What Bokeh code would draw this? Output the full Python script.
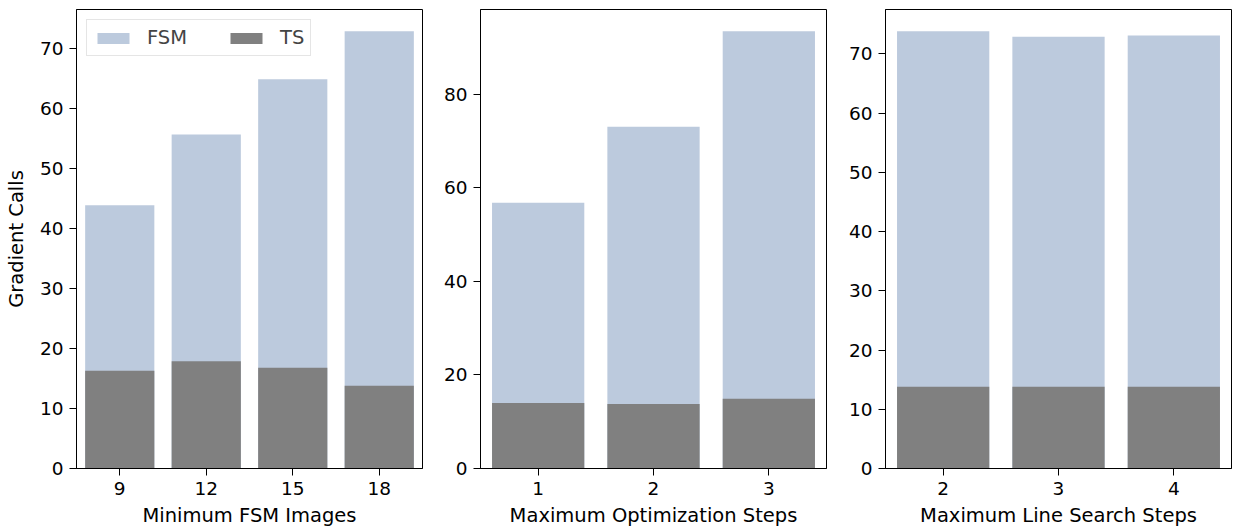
from bokeh.plotting import figure
from bokeh.layouts import row
from bokeh.models import Range1d, FixedTicker, Legend, LegendItem
from bokeh.embed import file_html
from bokeh.resources import INLINE

# ---- data ----
fsm_images = ["9", "12", "15", "18"]
fsm_images_fsm = [43.9, 55.7, 64.9, 72.9]
fsm_images_ts = [16.3, 17.9, 16.8, 13.8]

opt_steps = ["1", "2", "3"]
opt_steps_fsm = [56.8, 73.0, 93.4]
opt_steps_ts = [14.0, 13.8, 14.9]

ls_steps = ["2", "3", "4"]
ls_steps_fsm = [73.8, 72.9, 73.1]
ls_steps_ts = [13.8, 13.8, 13.8]

FSM_COLOR = "#bccadd"
TS_COLOR = "#808080"
FONT = "DejaVu Sans"
TICK_FS = "18.5px"
LABEL_FS = "19.5px"


def make_panel(cats, fsm, ts, xlabel, yticks, ylabel=None, min_left=53, min_right=5):
    ymax = max(fsm) * 1.05
    p = figure(x_range=cats, y_range=Range1d(0, ymax),
               frame_width=346, frame_height=459,
               output_backend="svg", toolbar_location=None,
               min_border_left=min_left, min_border_right=min_right,
               min_border_top=9, min_border_bottom=0)
    r1 = p.vbar(x=cats, top=fsm, width=0.8, fill_color=FSM_COLOR, line_color=None)
    r2 = p.vbar(x=cats, top=ts, width=0.8, fill_color=TS_COLOR, line_color=None)
    p.xgrid.visible = False
    p.ygrid.visible = False
    p.outline_line_color = "black"
    p.outline_line_alpha = 1
    p.outline_line_width = 1
    p.yaxis.ticker = FixedTicker(ticks=yticks)
    for ax in (p.xaxis[0], p.yaxis[0]):
        ax.axis_line_color = "black"
        ax.major_tick_line_color = "black"
        ax.major_tick_out = 7
        ax.major_tick_in = 0
        ax.minor_tick_line_color = None
        ax.major_label_text_font = FONT
        ax.major_label_text_font_size = TICK_FS
        ax.major_label_text_color = "black"
        ax.axis_label_text_font = FONT
        ax.axis_label_text_font_size = LABEL_FS
        ax.axis_label_text_font_style = "normal"
        ax.axis_label_text_color = "black"
        ax.major_label_standoff = 6
    p.xaxis.axis_label = xlabel
    p.xaxis.axis_label_standoff = 6
    p.xaxis.major_label_standoff = 6
    if ylabel:
        p.yaxis.axis_label = ylabel
        p.yaxis.axis_label_standoff = 9
    return p, r1, r2


p1, a1, b1 = make_panel(fsm_images, fsm_images_fsm, fsm_images_ts, "Minimum FSM Images",
                        [0, 10, 20, 30, 40, 50, 60, 70], ylabel="Gradient Calls", min_left=76)
p2, _, _ = make_panel(opt_steps, opt_steps_fsm, opt_steps_ts, "Maximum Optimization Steps",
                      [0, 20, 40, 60, 80], min_left=53)
p3, _, _ = make_panel(ls_steps, ls_steps_fsm, ls_steps_ts, "Maximum Line Search Steps",
                      [0, 10, 20, 30, 40, 50, 60, 70], min_left=54, min_right=2)

legend = Legend(items=[LegendItem(label="FSM", renderers=[a1]),
                       LegendItem(label="TS", renderers=[b1])],
                orientation="horizontal", location="top_left")
legend.label_text_font = FONT
legend.label_text_font_size = LABEL_FS
legend.glyph_width = 40
legend.glyph_height = 14
legend.label_standoff = 14
legend.spacing = 39
legend.padding = 6
legend.margin = 10
legend.border_line_color = "#cccccc"
legend.border_line_width = 1
legend.background_fill_alpha = 0.8
p1.add_layout(legend)

layout = row(p1, p2, p3)
open("out.html", "w").write(file_html(layout, INLINE))
